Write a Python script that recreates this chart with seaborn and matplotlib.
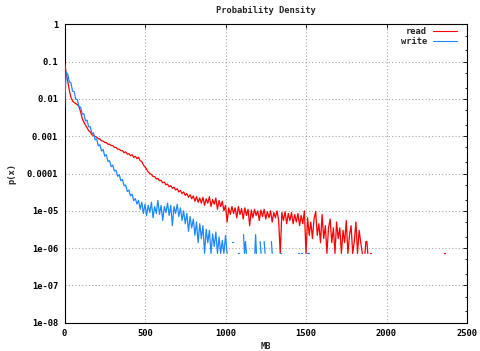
import numpy as np
import pandas as pd
import matplotlib
matplotlib.use("Agg")
import matplotlib.pyplot as plt
import seaborn as sns
from matplotlib.ticker import FixedLocator, FixedFormatter, LogLocator, NullFormatter
from matplotlib.lines import Line2D

# ---------------- data ----------------
BIN_MB = 10  # spacing of the histogram bins below (MB)

# p(x) for "read", bins 0, 10, 20, ... 1850 MB
read_p = [
    0.1, 0.05, 0.03, 0.017, 0.011, 0.0088, 0.0080, 0.0075, 0.0070, 0.0062,
    0.0045, 0.0030, 0.0024, 0.0020, 0.0017, 0.0014, 0.0013, 0.0011, 0.00105, 0.00098,
    0.00094, 0.00086, 0.00084, 0.00075, 0.00074, 0.00068, 0.00067, 0.00061, 0.00061, 0.00056,
    0.00056, 0.00050, 0.00050, 0.00045, 0.00045, 0.00041, 0.00041, 0.00036, 0.00038, 0.00033,
    0.00034, 0.00030, 0.00032, 0.00027, 0.00029, 0.00025, 0.00027, 0.00022, 0.00021, 0.00017,
    0.00015, 0.00013, 0.00011, 0.000100, 0.000094, 0.000083, 0.000083, 0.000071, 0.000074, 0.000064,
    6.6e-5, 5.6e-5, 5.9e-5, 5.0e-5, 5.2e-5, 4.4e-5, 4.7e-5, 4.0e-5, 4.3e-5, 3.6e-5,
    3.9e-5, 3.2e-5, 3.5e-5, 2.9e-5, 3.2e-5, 2.6e-5, 2.9e-5, 2.3e-5, 2.7e-5, 2.1e-5,
    2.5e-5, 1.8e-5, 2.4e-5, 1.7e-5, 2.2e-5, 1.6e-5, 2.3e-5, 1.4e-5, 2.1e-5, 1.6e-5,
    2.4e-5, 1.3e-5, 2.0e-5, 1.5e-5, 2.2e-5, 1.1e-5, 1.9e-5, 1.3e-5, 1.8e-5, 1.0e-5,
    1.4e-5, 5.0e-6, 1.2e-5, 8.0e-6, 1.3e-5, 8.5e-6, 1.2e-5, 6.5e-6, 1.3e-5, 8.0e-6,
    1.15e-5, 6.0e-6, 1.2e-5, 7.5e-6, 1.1e-5, 4.0e-6, 1.05e-5, 6.5e-6, 1.1e-5, 7.5e-6,
    1.0e-5, 5.5e-6, 1.05e-5, 7.0e-6, 1.1e-5, 6.0e-6, 9.5e-6, 6.5e-6, 1.0e-5, 5.0e-6,
    9.0e-6, 6.5e-6, 1.0e-5, 5.5e-6, 7.2e-7, 9.0e-6, 5.5e-6, 9.5e-6, 4.5e-6, 8.5e-6,
    5.5e-6, 9.0e-6, 4.5e-6, 8.0e-6, 5.0e-6, 8.5e-6, 4.0e-6, 7.5e-6, 4.5e-6, 1.0e-5,
    7.2e-7, 6.5e-6, 2.2e-6, 5.0e-6, 1.8e-6, 6.0e-6, 9.6e-6, 2.2e-6, 4.5e-6, 1.4e-6,
    8.0e-6, 1.8e-6, 4.0e-6, 7.2e-7, 3.5e-6, 6.0e-6, 1.4e-6, 3.5e-6, 7.2e-7, 5.0e-6,
    1.8e-6, 3.5e-6, 7.2e-7, 3.0e-6, 1.4e-6, 5.5e-6, 7.2e-7, 2.2e-6, 4.0e-6, 7.2e-7,
    1.5e-6, 5.0e-6, 7.2e-7, 3.0e-6, 1.4e-6, 7.2e-7,
]

# p(x) for "write", bins 0, 10, 20, ... 1010 MB
write_p = [
    0.0056, 0.052, 0.046, 0.0286, 0.0269, 0.0161, 0.0157, 0.0098, 0.0096, 0.0061,
    0.0060, 0.0039, 0.0040, 0.0026, 0.0027, 0.00179, 0.00179, 0.00116, 0.00123, 0.00080,
    0.00084, 0.00055, 0.00059, 0.00040, 0.00044, 0.00029, 0.00032, 0.00021, 0.00022, 0.000152,
    0.000168, 0.000116, 0.000123, 8.4e-5, 9.3e-5, 6.4e-5, 6.9e-5, 4.7e-5, 4.9e-5, 3.3e-5,
    3.6e-5, 2.5e-5, 2.8e-5, 1.88e-5, 2.13e-5, 1.52e-5, 1.9e-5, 1.1e-5, 1.7e-5, 8.5e-6,
    1.5e-5, 7.5e-6, 1.4e-5, 9.0e-6, 1.7e-5, 6.5e-6, 1.3e-5, 8.5e-6, 1.9e-5, 8.0e-6,
    1.4e-5, 5.5e-6, 1.3e-5, 9.0e-6, 1.6e-5, 7.5e-6, 1.4e-5, 4.0e-6, 1.3e-5, 8.5e-6,
    1.5e-5, 7.0e-6, 1.2e-5, 5.5e-6, 1.0e-5, 4.5e-6, 8.5e-6, 2.8e-6, 7.0e-6, 3.5e-6,
    6.0e-6, 2.2e-6, 5.0e-6, 1.4e-6, 4.5e-6, 1.8e-6, 4.0e-6, 7.2e-7, 3.2e-6, 1.4e-6,
    3.0e-6, 7.2e-7, 2.4e-6, 1.1e-6, 2.7e-6, 7.2e-7, 2.0e-6, 7.2e-7, 1.6e-6, 7.2e-7,
    2.2e-6, 7.2e-7,
]

# isolated non-empty bins further out (each inner list is one short run)
read_sparse_x = [[1866, 1872, 1878, 1884], [1896, 1901], [1926, 1931], [2013, 2018], [2356, 2361]]
read_sparse_p = [[7.2e-7, 1.5e-6, 1.5e-6, 7.2e-7], [7.2e-7, 7.2e-7], [7.2e-7, 7.2e-7],
                 [7.2e-7, 7.2e-7], [7.2e-7, 7.2e-7]]
write_sparse_x = [[1040, 1046], [1078, 1084], [1112, 1118, 1124, 1130], [1182, 1187, 1192],
                  [1215, 1221], [1240, 1246], [1285, 1290], [1338, 1343], [1452, 1458],
                  [1472, 1478], [1505, 1512, 1518]]
write_sparse_p = [[1.5e-6, 1.5e-6], [7.2e-7, 7.2e-7], [2.3e-6, 7.2e-7, 1.5e-6, 7.2e-7],
                  [7.2e-7, 2.3e-6, 7.2e-7], [1.5e-6, 7.2e-7], [1.5e-6, 7.2e-7],
                  [1.5e-6, 7.2e-7], [7.2e-7, 7.2e-7], [7.2e-7, 7.2e-7], [7.2e-7, 7.2e-7],
                  [7.2e-7, 7.2e-7, 7.2e-7]]

series_names = ["read", "write"]
series_colors = ["#ff0000", "#1e88ff"]
x_ticks = [0, 500, 1000, 1500, 2000, 2500]
y_ticks = [1, 0.1, 0.01, 0.001, 0.0001, 1e-5, 1e-6, 1e-7, 1e-8]
y_tick_labels = ["1", "0.1", "0.01", "0.001", "0.0001", "1e-05", "1e-06", "1e-07", "1e-08"]

# ---------------- table ----------------
rows = []
for name, main, sx, sp in [("read", read_p, read_sparse_x, read_sparse_p),
                           ("write", write_p, write_sparse_x, write_sparse_p)]:
    for i, v in enumerate(main):
        rows.append((name, i * BIN_MB, v, f"{name}-0"))
    for k, (xs, ps) in enumerate(zip(sx, sp)):
        for xv, v in zip(xs, ps):
            rows.append((name, xv, v, f"{name}-{k + 1}"))
df = pd.DataFrame(rows, columns=["series", "MB", "p", "seg"])

# ---------------- style ----------------
sns.set_style("white")
FONT = ["DejaVu Sans Mono", "DejaVu Sans"]
plt.rcParams["font.family"] = FONT
plt.rcParams["font.weight"] = "bold"
FS = 6.3

fig = plt.figure(figsize=(4.8, 3.51), dpi=100)
ax = fig.add_axes([64.5 / 480, 1 - 322.7 / 351, (467 - 64.5) / 480, (322.7 - 24.3) / 351])
ax.set_yscale("log")

sns.lineplot(data=df, x="MB", y="p", hue="series", units="seg", estimator=None,
             hue_order=series_names, palette=dict(zip(series_names, series_colors)),
             linewidth=0.9, legend=False, ax=ax, zorder=3)

ax.set_xlim(0, 2500)
ax.set_ylim(1e-8, 1)
ax.xaxis.set_major_locator(FixedLocator(x_ticks))
ax.yaxis.set_major_locator(FixedLocator(y_ticks))
ax.yaxis.set_major_formatter(FixedFormatter(y_tick_labels))
ax.yaxis.set_minor_locator(LogLocator(base=10, subs=(2.0, 5.0), numticks=20))
ax.yaxis.set_minor_formatter(NullFormatter())

ax.set_axisbelow(True)
ax.grid(True, which="major", color="#a8a8a8", linestyle=(0, (1, 2)), linewidth=0.8)
for s in ax.spines.values():
    s.set_color("black")
    s.set_linewidth(0.8)
ax.tick_params(which="both", direction="in", top=True, right=True, width=0.6,
               labelsize=FS, colors="black")
ax.tick_params(which="major", length=2.6)
ax.tick_params(which="minor", length=1.4)
ax.tick_params(axis="y", pad=4.6)
ax.tick_params(axis="x", pad=4.4)
for lab in ax.get_xticklabels() + ax.get_yticklabels():
    lab.set_fontweight("bold")

ax.set_xlabel("MB", fontsize=FS, fontweight="bold", va="center")
ax.xaxis.set_label_coords(0.5, (322.7 - 346.5) / 298.4)
ax.set_ylabel("p(x)", fontsize=FS, fontweight="bold", va="center", ha="center")
ax.yaxis.set_label_coords((12 - 64.5) / 402.5, 0.5)

fig.text((64.5 + 467) / 2 / 480, 1 - 10.5 / 351, "Probability Density",
         ha="center", va="center", fontsize=FS, fontweight="bold")

handles = [Line2D([], [], color=c, lw=0.8) for c in series_colors]
ax.legend(handles, series_names, loc="upper right", bbox_to_anchor=(0.9744, 0.99),
          borderaxespad=0, borderpad=0, markerfirst=False, frameon=False,
          handlelength=2.75, handletextpad=0.65, labelspacing=0.1,
          prop={"family": FONT, "weight": "bold", "size": FS})

fig.savefig("out.png", dpi=100, facecolor="white")
